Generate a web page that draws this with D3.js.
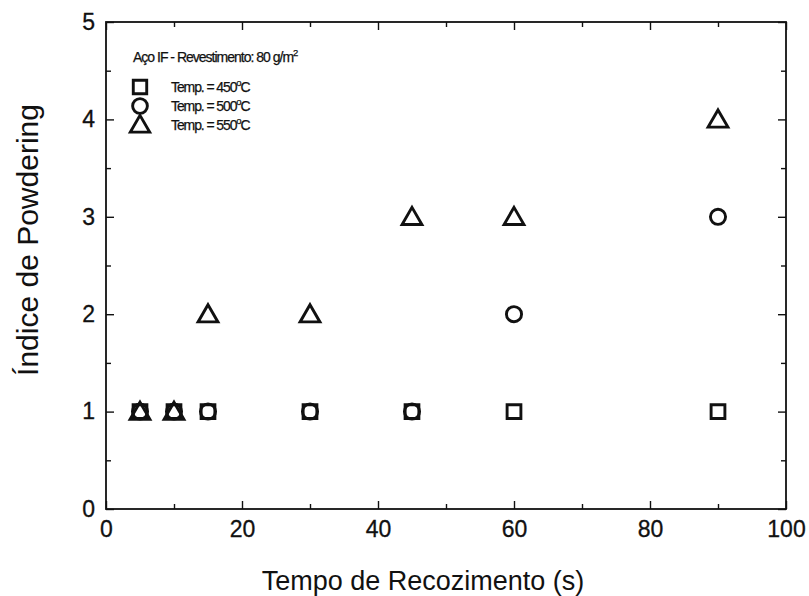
<!DOCTYPE html>
<html>
<head>
<meta charset="utf-8">
<script src="https://cdn.jsdelivr.net/npm/d3@7"></script>
<style>
  html, body { margin: 0; padding: 0; background: #fff; }
  svg { display: block; font-family: "Liberation Sans", Arial, sans-serif; }
</style>
</head>
<body>
<svg id="chart" width="809" height="596"></svg>
<script>
// Annealing time (s) for each measurement
const times = [5, 10, 15, 30, 45, 60, 90];
// Powdering index at each annealing temperature
const idx450 = [1, 1, 1, 1, 1, 1, 1];
const idx500 = [1, 1, 1, 1, 1, 2, 3];
const idx550 = [1, 1, 2, 2, 3, 3, 4];

const seriesNames = ["Temp. = 450", "Temp. = 500", "Temp. = 550"];
const seriesShapes = ["square", "circle", "triangle"];
const xTicks = [0, 20, 40, 60, 80, 100];
const yTicks = [0, 1, 2, 3, 4, 5];

const series = [idx450, idx500, idx550].map((vals, i) => ({
  name: seriesNames[i],
  shape: seriesShapes[i],
  points: times.map((t, j) => ({ x: t, y: vals[j] }))
}));

const svg = d3.select("#chart");
const plotL = 106, plotR = 786, plotT = 22, plotB = 509;

const x = d3.scaleLinear().domain([0, 100]).range([plotL, plotR]);
const y = d3.scaleLinear().domain([0, 5]).range([plotB, plotT]);

const ink = "#111";

// frame
svg.append("rect")
  .attr("x", plotL).attr("y", plotT)
  .attr("width", plotR - plotL).attr("height", plotB - plotT)
  .attr("fill", "none").attr("stroke", ink).attr("stroke-width", 1.8);

// inward ticks on all four sides
const xMajor = xTicks, xMinor = d3.range(10, 100, 20);
const yMajor = yTicks, yMinor = d3.range(0.5, 5, 1);

function tickAxis(axisGen, tx, ty, size, vals) {
  const g = svg.append("g").attr("transform", `translate(${tx},${ty})`)
    .call(axisGen.tickValues(vals).tickSize(size).tickFormat(""));
  g.select(".domain").remove();
  g.selectAll(".tick line").attr("stroke", ink).attr("stroke-width", 1.4);
  return g;
}
tickAxis(d3.axisTop(x), 0, plotB, 8, xMajor);
tickAxis(d3.axisTop(x), 0, plotB, 5, xMinor);
tickAxis(d3.axisBottom(x), 0, plotT, 8, xMajor);
tickAxis(d3.axisBottom(x), 0, plotT, 5, xMinor);
tickAxis(d3.axisRight(y), plotL, 0, 8, yMajor);
tickAxis(d3.axisRight(y), plotL, 0, 5, yMinor);
tickAxis(d3.axisLeft(y), plotR, 0, 8, yMajor);
tickAxis(d3.axisLeft(y), plotR, 0, 5, yMinor);

// tick labels
const xl = svg.append("g").attr("transform", `translate(0,${plotB})`)
  .call(d3.axisBottom(x).tickValues(xTicks).tickSize(0).tickPadding(12).tickFormat(d3.format("d")));
xl.select(".domain").remove();
xl.selectAll("text").attr("font-size", 23).attr("fill", ink)
  .attr("stroke", ink).attr("stroke-width", 0.3)
  .attr("font-family", "Liberation Sans, Arial, sans-serif");

const yl = svg.append("g").attr("transform", `translate(${plotL},0)`)
  .call(d3.axisLeft(y).tickValues(yTicks).tickSize(0).tickPadding(11).tickFormat(d3.format("d")));
yl.select(".domain").remove();
yl.selectAll("text").attr("font-size", 23).attr("fill", ink)
  .attr("stroke", ink).attr("stroke-width", 0.3)
  .attr("font-family", "Liberation Sans, Arial, sans-serif");

// axis titles
svg.append("text")
  .attr("x", 423).attr("y", 590)
  .attr("text-anchor", "middle").attr("font-size", 27).attr("fill", ink)
  .text("Tempo de Recozimento (s)");

svg.append("text")
  .attr("transform", `translate(38,240) rotate(-90)`)
  .attr("text-anchor", "middle").attr("font-size", 30).attr("fill", ink)
  .text("Índice de Powdering");

// marker shapes
const symbolFor = { square: d3.symbolSquare, circle: d3.symbolCircle, triangle: d3.symbolTriangle };
const sizeFor = { square: 190, circle: 180, triangle: 170 };
function marker(sel, shape, scale) {
  sel.attr("d", d3.symbol().type(symbolFor[shape]).size(sizeFor[shape] * (scale || 1))())
    .attr("fill", "none").attr("stroke", ink).attr("stroke-width", 2.9)
    .attr("stroke-linejoin", "miter");
}

series.forEach(s => {
  svg.append("g").selectAll("path").data(s.points).join("path")
    .attr("transform", d => `translate(${x(d.x)},${y(d.y) + (s.shape === "triangle" ? 2 : 0)})`)
    .call(marker, s.shape);
});

// legend
const lg = svg.append("g").attr("font-family", "Liberation Sans, Arial, sans-serif")
  .attr("stroke", ink).attr("stroke-width", 0.25);
lg.append("text").attr("x", 133).attr("y", 62).attr("font-size", 14)
  .attr("letter-spacing", -1.0).attr("fill", ink)
  .text("Aço IF - Revestimento: 80 g/m")
  .append("tspan").attr("dy", -6).attr("font-size", 9.5).text("2");

series.forEach((s, i) => {
  const cy = 87 + i * 19;
  lg.append("path")
    .attr("transform", `translate(140,${cy + (s.shape === "triangle" ? 1.5 : 0)})`)
    .call(marker, s.shape, 0.95);
  const t = lg.append("text").attr("x", 171).attr("y", cy + 5)
    .attr("font-size", 14).attr("letter-spacing", -1.1).attr("fill", ink)
    .text(s.name);
  t.append("tspan").attr("dy", -6).attr("font-size", 9.5).text("o");
  t.append("tspan").attr("dy", 6).text("C");
});
</script>
</body>
</html>
